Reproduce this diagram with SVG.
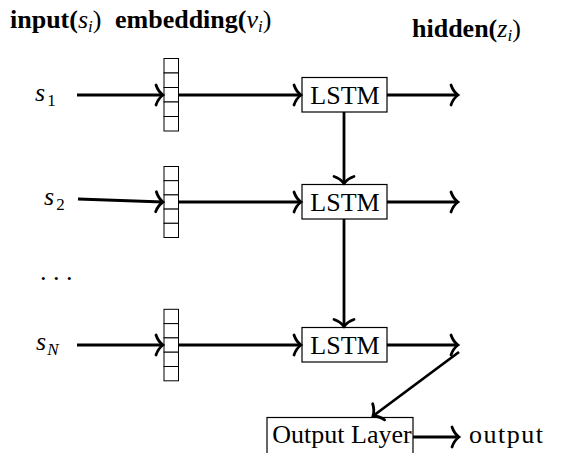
<svg xmlns="http://www.w3.org/2000/svg" width="571" height="453" viewBox="0 0 571 453">
<style>
text{font-family:"Liberation Serif","Times New Roman",serif;fill:#000}
.hd{font-size:26px;font-weight:bold}
.m{font-style:italic;font-weight:normal}
.sub{font-size:17px}
.up{font-style:normal}
.lbl{font-size:26px}
.box{fill:#fff;stroke:#000;stroke-width:1.2}
.cell{fill:#fff;stroke:#000;stroke-width:1}
.c{fill:none;stroke:#000;stroke-width:2.8}
.t{font-size:26px}
</style>
<defs>
<marker id="a" markerUnits="userSpaceOnUse" viewBox="-10 -12 12 24" refX="0" refY="0" markerWidth="12" markerHeight="24" orient="auto" overflow="visible">
<path d="M-7,-10 C-5,-4 -2,-1.5 0,0 C-2,1.5 -5,4 -7,10" fill="none" stroke="#000" stroke-width="2.8" stroke-linecap="round"/>
</marker>
</defs>
<g id="headers">
<text class="hd" x="10" y="28">input(<tspan class="m">s</tspan><tspan class="m sub" dy="4">i</tspan><tspan dy="-4" font-weight="normal">)</tspan></text>
<text class="hd" x="115" y="28">embedding(<tspan class="m">v</tspan><tspan class="m sub" dy="4">i</tspan><tspan dy="-4" font-weight="normal">)</tspan></text>
<text class="hd" x="412" y="37">hidden(<tspan class="m">z</tspan><tspan class="m sub" dy="4">i</tspan><tspan dy="-4" font-weight="normal">)</tspan></text>
</g>
<g id="inputs">
<text class="lbl m" x="35" y="101">s<tspan class="sub up" dx="2" dy="5" font-size="19">1</tspan></text>
<text class="lbl m" x="44" y="205">s<tspan class="sub up" dx="2" dy="5" font-size="19">2</tspan></text>
<text class="lbl" x="40" y="280">. . .</text>
<text class="lbl m" x="36" y="350">s<tspan class="sub" dx="1" dy="5" font-size="19">N</tspan></text>
</g>
<g id="emb1">
<rect class="cell" x="164" y="58.5" width="14.5" height="14.5"/>
<rect class="cell" x="164" y="73" width="14.5" height="14.5"/>
<rect class="cell" x="164" y="87.5" width="14.5" height="14.5"/>
<rect class="cell" x="164" y="102" width="14.5" height="14.5"/>
<rect class="cell" x="164" y="116.5" width="14.5" height="14.5"/>
</g>
<g id="emb2">
<rect class="cell" x="164" y="166.5" width="14.5" height="14.2"/>
<rect class="cell" x="164" y="180.7" width="14.5" height="14.2"/>
<rect class="cell" x="164" y="194.9" width="14.5" height="14.2"/>
<rect class="cell" x="164" y="209.1" width="14.5" height="14.2"/>
<rect class="cell" x="164" y="223.3" width="14.5" height="14.2"/>
</g>
<g id="embN">
<rect class="cell" x="164" y="309.3" width="14.5" height="14.3"/>
<rect class="cell" x="164" y="323.6" width="14.5" height="14.3"/>
<rect class="cell" x="164" y="337.9" width="14.5" height="14.3"/>
<rect class="cell" x="164" y="352.2" width="14.5" height="14.3"/>
<rect class="cell" x="164" y="366.5" width="14.5" height="14.3"/>
</g>
<g id="lstm1">
<rect class="box" x="302" y="77.5" width="85" height="34.5"/>
<text class="t" x="345" y="104" text-anchor="middle">LSTM</text>
</g>
<g id="lstm2">
<rect class="box" x="302" y="184.5" width="85" height="34.5"/>
<text class="t" x="345" y="211" text-anchor="middle">LSTM</text>
</g>
<g id="lstmN">
<rect class="box" x="302" y="327.5" width="85" height="34.5"/>
<text class="t" x="345" y="354" text-anchor="middle">LSTM</text>
</g>
<g id="outlayer">
<rect class="box" x="267" y="417.5" width="146" height="60"/>
<text class="t" x="342" y="443" text-anchor="middle">Output Layer</text>
</g>
<g id="output">
<text class="t" x="469" y="443" font-size="27" letter-spacing="1.5">output</text>
</g>
<g id="connectors">
<path class="c" d="M77,95 L163,95" marker-end="url(#a)"/>
<path class="c" d="M78,199 L163,202" marker-end="url(#a)"/>
<path class="c" d="M77,345 L163,345" marker-end="url(#a)"/>
<path class="c" d="M179,95 L301,95" marker-end="url(#a)"/>
<path class="c" d="M179,202 L301,202" marker-end="url(#a)"/>
<path class="c" d="M179,345 L301,345" marker-end="url(#a)"/>
<path class="c" d="M387,95 L458,95" marker-end="url(#a)"/>
<path class="c" d="M387,202 L458,202" marker-end="url(#a)"/>
<path class="c" d="M387,345 L458,345" marker-end="url(#a)"/>
<path class="c" d="M344,112 L344,183.5" marker-end="url(#a)"/>
<path class="c" d="M344,219 L344,326.5" marker-end="url(#a)"/>
<path class="c" d="M459,352 L373,416" marker-end="url(#a)"/>
<path class="c" d="M413,437 L459,437" marker-end="url(#a)"/>
</g>
</svg>
